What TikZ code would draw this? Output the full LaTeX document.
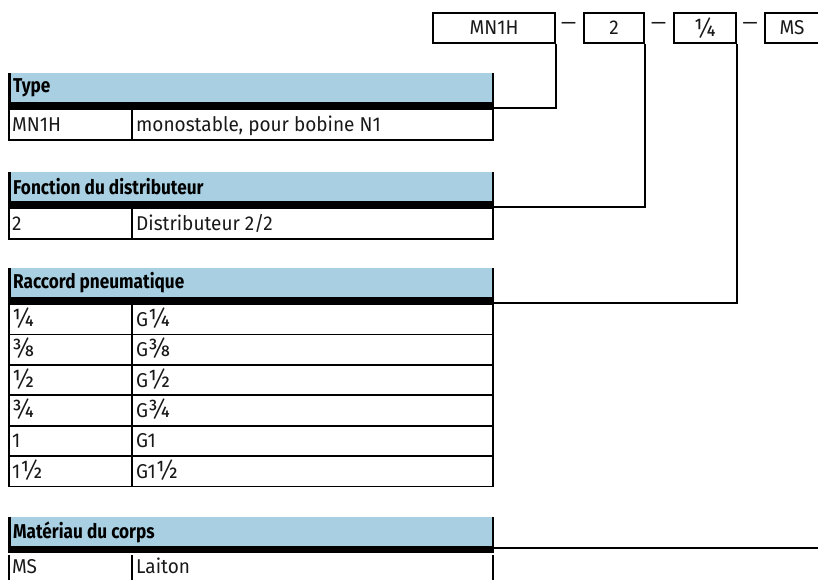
\documentclass[tikz,border=0pt]{standalone}
\usepackage{fontspec}
\setmainfont{Fira Sans}[FakeStretch=0.95]
\newfontfamily\hdrfont{Fira Sans}[FakeStretch=0.86]
\newcommand{\fr}[1]{{\fontsize{25}{25}\selectfont #1}}
\definecolor{hdrblue}{RGB}{168,208,226}
\definecolor{txt}{RGB}{25,25,25}
\begin{document}
\begin{tikzpicture}[x=1pt,y=-1pt,
  codebox/.style={draw,line width=1.8pt,minimum height=30pt,inner sep=0pt,font=\fontsize{20}{22}\selectfont,text=txt},
  dashtxt/.style={inner sep=0pt,font=\fontsize{20}{22}\selectfont,text=txt},
  hdrtxt/.style={anchor=west,inner sep=0pt,font=\hdrfont\fontsize{20}{22}\selectfont\bfseries,text=black},
  celltxt/.style={anchor=base west,inner sep=0pt,font=\fontsize{20}{22}\selectfont,text=txt},
  tline/.style={line width=1.8pt},
  conn/.style={line width=1.8pt}]
\useasboundingbox (0,0) rectangle (818,579);
\clip (0,0) rectangle (818,579);

% ---- code boxes
\node[codebox,minimum width=122pt] (b1) at (494,28) {MN1H};
\node[codebox,minimum width=60pt]  (b2) at (614,28) {2};
\node[codebox,minimum width=62pt]  (b3) at (705,28) {\fr{¼}};
\node[codebox,minimum width=54pt]  (b4) at (792,28) {MS};
\node[dashtxt] (d1) at (568.5,26) {—};
\node[dashtxt] (d2) at (658.5,26) {—};
\node[dashtxt] (d3) at (750,26) {—};

% ---- generic header drawing
\newcommand{\tblhead}[3]{% top, name, title
  \fill[hdrblue] (9,#1) rectangle (493,#1+29);
  \draw[line width=3pt,black] (9,#1) -- (9,#1+29);
  \draw[tline] (493,#1) -- (493,#1+29);
  \fill[black] (7.5,#1+29) rectangle (494,#1+36);
  \node[hdrtxt] (#2) at (13,#1+15) {#3};
}

% ---- Type
\tblhead{73}{hType}{Type}
\draw[tline] (9,109) rectangle (493,140);
\draw[tline] (132,109) -- (132,140);
\node[celltxt] (t1a) at (12,131.5) {MN1H};
\node[celltxt] (t1b) at (136,131.5) {monostable, pour bobine N1};
\coordinate (e1) at (493,108);

% ---- Fonction
\tblhead{172}{hFct}{Fonction du distributeur}
\draw[tline] (9,208) rectangle (493,239);
\draw[tline] (132,208) -- (132,239);
\node[celltxt] (t2a) at (12,230.5) {2};
\node[celltxt] (t2b) at (136,230.5) {Distributeur 2/2};
\coordinate (e2) at (493,207);

% ---- Raccord
\tblhead{268}{hRac}{Raccord pneumatique}
\draw[tline] (9,304) rectangle (493,486.5);
\draw[tline] (132,304) -- (132,486.5);
\foreach \i in {1,...,5} \draw[tline] (9,304+\i*30.42) -- (493,304+\i*30.42);
\node[celltxt] (r1a) at (12,326.2) {\fr{¼}};   \node[celltxt] (r1b) at (136,326.2) {G\fr{¼}};
\node[celltxt] (r2a) at (12,356.6) {\fr{⅜}};   \node[celltxt] (r2b) at (136,356.6) {G\fr{⅜}};
\node[celltxt] (r3a) at (12,387.0) {\fr{½}};   \node[celltxt] (r3b) at (136,387.0) {G\fr{½}};
\node[celltxt] (r4a) at (12,417.5) {\fr{¾}};   \node[celltxt] (r4b) at (136,417.5) {G\fr{¾}};
\node[celltxt] (r5a) at (12,447.9) {1};        \node[celltxt] (r5b) at (136,447.9) {G1};
\node[celltxt] (r6a) at (12,478.3) {1\fr{½}};  \node[celltxt] (r6b) at (136,478.3) {G1\fr{½}};
\coordinate (e3) at (493,303);

% ---- Materiau
\tblhead{517}{hMat}{Matériau du corps}
\draw[tline] (9,555) -- (9,590);
\draw[tline] (493,555) -- (493,590);
\draw[tline] (132,555) -- (132,590);
\node[celltxt] (t4a) at (12,573) {MS};
\node[celltxt] (t4b) at (136,573) {Laiton};
\coordinate (e4) at (493,548);

% ---- connectors
\draw[conn] (b1.south east) |- (e1);
\draw[conn] (b2.south east) |- (e2);
\draw[conn] (b3.south east) |- (e3);
\draw[conn] (b4.south east) |- (e4);
\end{tikzpicture}
\end{document}
